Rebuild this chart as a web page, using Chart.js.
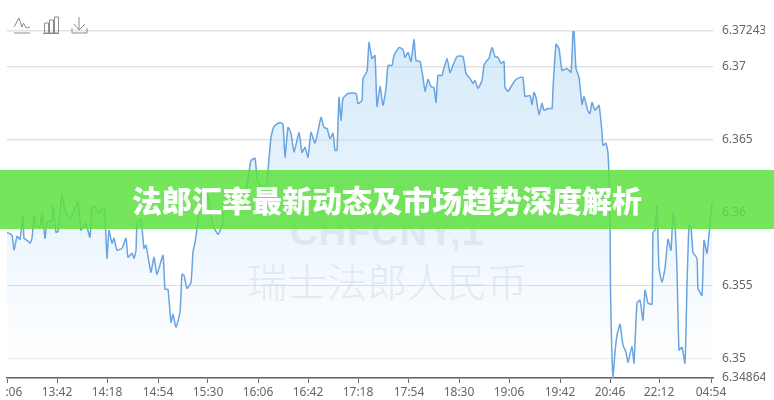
<!DOCTYPE html>
<html lang="zh">
<head>
<meta charset="utf-8">
<script src="https://cdn.jsdelivr.net/npm/chart.js@4"></script>
<style>
html,body{margin:0;padding:0;background:#fff;width:774px;height:400px;overflow:hidden}
#wrap{position:relative;width:774px;height:400px}
canvas{position:absolute;left:0;top:0;z-index:2;clip-path:inset(0 0 0 5.5px)}
.mark{position:absolute;z-index:1;white-space:nowrap;color:#e9ecee;line-height:1}
#m1{left:290px;top:211px;font:bold 38px "Liberation Sans",sans-serif;letter-spacing:1px}
#m2{left:247px;top:251px;font:300 40px "Noto Sans CJK SC",sans-serif}
#banner{position:absolute;z-index:3;left:0;top:170px;width:774px;height:59px;background:rgba(93,225,63,.85);
color:#fff;font:900 30px/59px "Noto Sans CJK SC",sans-serif;text-align:center}
svg{position:absolute;left:0;top:0;z-index:3}
</style>
</head>
<body>
<div id="wrap">
<div class="mark" id="m1">CHFCNY,1</div>
<div class="mark" id="m2">瑞士法郎人民币</div>
<canvas id="c" width="765" height="400" style="width:765px;height:400px"></canvas>
<svg width="100" height="40" fill="none" stroke="#8c8c8c" stroke-width="1">
<path d="M14 27L19 18L22 27L23.500 23L26 28L30 27M14 33H30"/>
<path d="M44.500 23h4v10h-4zM49.500 20h4v13h-4zM54.500 17h4v16h-4zM43 33.500H59"/>
<path d="M79 17V30M74 24L79 30L85 24M72 28V33H87V28"/>
</svg>
<div id="banner">法郎汇率最新动态及市场趋势深度解析</div>
</div>
<script>
const tickLabels = ["13:06","13:42","14:18","14:54","15:30","16:06","16:42","17:18","17:54","18:30","19:06","19:42","20:46","22:12","04:54"];
const tickSamples = [0,50,100,151,201,251,301,351,402,452,502,553,603,652,704];
const yTicks = [6.34864,6.35,6.355,6.36,6.365,6.37,6.37243];

const readings = [
[0,6.35863],[5,6.35842],[7,6.3574],[10,6.35835],[13,6.35815],[16,6.35979],[17,6.35822],[20,6.35808],[23,6.35788],[25,6.35822],
[27,6.35979],[29,6.35911],[33,6.35897],[35,6.35993],[38,6.35822],[40,6.35931],[45,6.35945],[46,6.36041],[49,6.35863],[51,6.3587],
[55,6.36123],[58,6.36014],[63,6.35952],[67,6.36014],[71,6.36068],[74,6.35877],[78,6.35925],[80,6.35897],[83,6.35829],[85,6.36034],
[88,6.36041],[91,6.36],[97,6.36034],[99,6.35829],[100,6.35685],[102,6.35877],[105,6.35788],[107,6.35822],[110,6.3574],[115,6.35753],
[119,6.35822],[121,6.35692],[125,6.35719],[127,6.35685],[129,6.3574],[130,6.35925],[134,6.35952],[137,6.35753],[139,6.35774],[142,6.35657],
[144,6.35589],[147,6.35692],[150,6.35575],[156,6.35705],[158,6.35472],[161,6.35472],[164,6.35246],[166,6.35301],[169,6.35212],[173,6.35315],
[175,6.35575],[177,6.35568],[180,6.35479],[184,6.3552],[186,6.35726],[188,6.35794],[190,6.3589],[192,6.36048],[196,6.36151],[201,6.36116],
[204,6.35979],[206,6.35911],[211,6.35849],[215,6.35911],[218,6.36048],[225,6.36082],[233,6.36116],[239,6.36151],[243,6.36322],[244,6.36356],
[248,6.3637],[251,6.36199],[259,6.36171],[261,6.36288],[264,6.36514],[267,6.36589],[273,6.36616],[276,6.36603],[278,6.36377],[281,6.36582],
[284,6.36541],[287,6.36411],[292,6.36548],[295,6.36411],[298,6.36445],[301,6.36377],[304,6.36548],[308,6.36473],[311,6.36555],[314,6.36651],
[317,6.36582],[320,6.36575],[323,6.36507],[326,6.36541],[328,6.36425],[330,6.36425],[332,6.36788],[334,6.3663],[336,6.36781],[341,6.36815],
[349,6.36815],[351,6.36747],[355,6.36767],[356,6.36918],[360,6.36966],[362,6.37164],[365,6.37055],[368,6.37075],[370,6.36726],[373,6.36863],
[376,6.36733],[379,6.36849],[381,6.37007],[385,6.37007],[387,6.37075],[392,6.3713],[396,6.37116],[398,6.37062],[401,6.37096],[404,6.37034],
[407,6.37185],[409,6.37041],[413,6.37034],[416,6.36925],[418,6.36829],[421,6.36911],[424,6.36863],[427,6.36856],[429,6.36753],[431,6.36938],
[435,6.36938],[436,6.36966],[440,6.37055],[443,6.36959],[446,6.37007],[450,6.37068],[456,6.37068],[459,6.36952],[463,6.36918],[466,6.36884],
[468,6.36904],[471,6.36849],[475,6.36904],[477,6.37007],[480,6.37041],[482,6.37055],[485,6.3713],[488,6.37068],[491,6.37062],[494,6.37021],
[497,6.37034],[498,6.36856],[501,6.36829],[508,6.36904],[513,6.36925],[516,6.36925],[518,6.36794],[523,6.36801],[525,6.3674],[527,6.36822],
[529,6.36788],[532,6.36671],[535,6.36747],[537,6.36699],[541,6.36712],[545,6.36712],[546,6.36849],[549,6.37151],[552,6.37123],[555,6.36973],
[560,6.36986],[564,6.36959],[566,6.3724],[567,6.3724],[569,6.36986],[572,6.36925],[575,6.3674],[577,6.36794],[581,6.36692],[583,6.36678],
[585,6.36753],[588,6.36699],[592,6.36733],[595,6.36548],[596,6.36459],[599,6.36473],[601,6.36404],[603,6.36014],[603.5,6.35466],[606,6.34864],
[608,6.35041],[610,6.35157],[613,6.35233],[616,6.35089],[619,6.35041],[621,6.34972],[625,6.35082],[627,6.34966],[630,6.35377],[633,6.35397],
[636,6.3526],[638,6.35466],[641,6.35377],[645,6.3537],[646,6.35863],[648,6.35877],[650,6.36041],[652,6.35616],[655,6.3552],[658,6.35616],
[661,6.35815],[664,6.3574],[666,6.35993],[668,6.35911],[670,6.35603],[672,6.35055],[675,6.35075],[678,6.34966],[680,6.355],[682,6.35911],
[684,6.35897],[686,6.35726],[690,6.35685],[691,6.35479],[695,6.35431],[697,6.35808],[700,6.35719],[703,6.35925],[705,6.36068]
];

const points = readings.map(([x, y]) => ({x, y}));

new Chart(document.getElementById('c'), {
  type: 'line',
  data: { datasets: [{
    data: points,
    borderColor: '#6aa4e0',
    borderWidth: 1.5,
    borderJoinStyle: 'round',
    tension: 0.15,
    pointRadius: 0,
    fill: 'start',
    backgroundColor: ctx => {
      const a = ctx.chart.chartArea;
      if (!a) return 'rgba(170,212,245,.45)';
      const g = ctx.chart.ctx.createLinearGradient(0, a.top, 0, a.bottom);
      g.addColorStop(0, 'rgba(160,208,244,.44)');
      g.addColorStop(.5, 'rgba(180,218,248,.32)');
      g.addColorStop(1, 'rgba(215,235,255,0)');
      return g;
    }
  }]},
  options: {
    responsive: false,
    animation: false,
    layout: { padding: { left: 7, top: 31, right: 0, bottom: 0 } },
    plugins: { legend: { display: false }, tooltip: { enabled: false } },
    scales: {
      x: {
        type: 'linear', min: 0, max: 706,
        afterBuildTicks: s => { s.ticks = tickSamples.map(v => ({value: v})); },
        afterFit: s => { s.paddingLeft = 0; s.paddingRight = 0; s.height = 22; },
        ticks: {
          autoSkip: false, maxRotation: 0, minRotation: 0, padding: 2,
          color: '#666', font: { family: '"Noto Sans"', size: 12 },
          callback: (v, i) => tickLabels[i]
        },
        grid: { drawOnChartArea: false, drawTicks: true, tickLength: 5, color: '#666', lineWidth: 1 },
        border: { color: '#666', width: 1.5 }
      },
      y: {
        type: 'linear', position: 'right', min: 6.34864, max: 6.37243,
        afterBuildTicks: s => { s.ticks = yTicks.map(v => ({value: v})); },
        afterFit: s => { s.width = 52; s.paddingTop = 0; s.paddingBottom = 0; },
        ticks: {
          autoSkip: false, padding: 9, color: '#666',
          font: { family: '"Noto Sans"', size: 12 },
          callback: v => String(v)
        },
        grid: {
          drawTicks: false,
          color: c => c.tick.value < 6.3505 ? '#ececec' : (c.tick.value < 6.3605 ? '#dcdcdc' : '#e2e2e2'),
          lineWidth: c => c.tick.value < 6.3605 ? 1 : 1.5
        },
        border: { display: false }
      }
    }
  }
});
</script>
</body>
</html>
